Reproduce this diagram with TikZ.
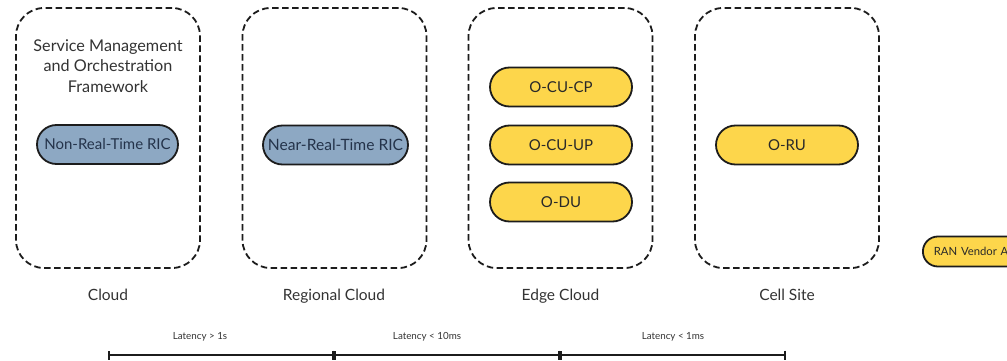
\documentclass[tikz,border=0pt]{standalone}
\usepackage{fontspec}
\setmainfont{Lato}
\usetikzlibrary{arrows.meta}
\definecolor{ricblue}{HTML}{8DA8C3}
\definecolor{ricink}{HTML}{24334A}
\definecolor{ranyellow}{HTML}{FDD64B}
\definecolor{outline}{HTML}{1C1C1C}
\definecolor{labelgray}{HTML}{333333}
\tikzset{
  site/.style={draw=outline, line width=1.8pt, dash pattern=on 6.5pt off 3.5pt,
    rounded corners=28pt, minimum width=184pt, minimum height=260pt, inner sep=0pt},
  pill/.style={draw=outline, line width=1.8pt, rounded corners=19.5pt,
    minimum width=142pt, minimum height=39pt, inner sep=0pt,
    font=\fontsize{15}{18}\selectfont},
  ricpill/.style={pill, fill=ricblue, text=ricink},
  nfpill/.style={pill, fill=ranyellow, text=labelgray!80!black},
  sitelabel/.style={text=labelgray, anchor=base, font=\fontsize{15.5}{18}\selectfont},
  latlabel/.style={text=labelgray, font=\fontsize{9.8}{12}\selectfont},
  axis/.style={draw=outline, line width=2pt, {Bar[width=9pt,line width=2pt]}-{Bar[width=9pt,line width=2pt]}}
}
\begin{document}
\begin{tikzpicture}[x=1pt, y=-1pt]
\useasboundingbox[fill=white] (0,0) rectangle (1007,361);

% deployment sites
\node[site] (cloud)    at (108,138) {};
\node[site] (regional) at (334.5,138) {};
\node[site] (edge)     at (560.5,138) {};
\node[site] (cell)     at (787,138) {};

% cloud contents
\node[text=labelgray, align=center, font=\fontsize{16.2}{20.5}\selectfont] (smo) at (108,66)
  {Service Management\\and Orchestration\\Framework};
\node[ricpill, minimum width=141pt] (nonrt) at (107.5,144.5) {Non-Real-Time RIC};

% regional cloud contents
\node[ricpill, minimum width=145pt, font=\fontsize{15.6}{18}\selectfont] (nearrt) at (335.5,145) {Near-Real-Time RIC};

% edge cloud contents
\node[nfpill] (cucp) at (561,87)  {O-CU-CP};
\node[nfpill] (cuup) at (561,145) {O-CU-UP};
\node[nfpill] (du)   at (561,202) {O-DU};

% cell site contents
\node[nfpill] (ru) at (787,145) {O-RU};

% legend entry
\node[pill, fill=ranyellow, text=labelgray!80!black, minimum width=120pt, minimum height=30pt,
  rounded corners=15pt, anchor=west, font=\fontsize{11.3}{13}\selectfont,
  text width=110pt, align=left, inner xsep=11pt] (vendor) at (922,251.5) {RAN Vendor A};

% site names
\node[sitelabel] (lcloud)    at (108,300)   {Cloud};
\node[sitelabel] (lregional) at (334,300)   {Regional Cloud};
\node[sitelabel] (ledge)     at (560.5,300) {Edge Cloud};
\node[sitelabel] (lcell)     at (787,300)   {Cell Site};

% latency scale
\coordinate (t0) at (108,355);
\coordinate (t1) at (334,355);
\coordinate (t2) at (560,355);
\coordinate (t3) at (786,355);
\draw[axis] (t0) -- (t1);
\draw[axis] (t1) -- (t2);
\draw[axis] (t2) -- (t3);
\node[latlabel] (lat1) at (200,337) {Latency > 1s};
\node[latlabel] (lat2) at (427,337) {Latency < 10ms};
\node[latlabel] (lat3) at (673,337) {Latency < 1ms};
\end{tikzpicture}
\end{document}
